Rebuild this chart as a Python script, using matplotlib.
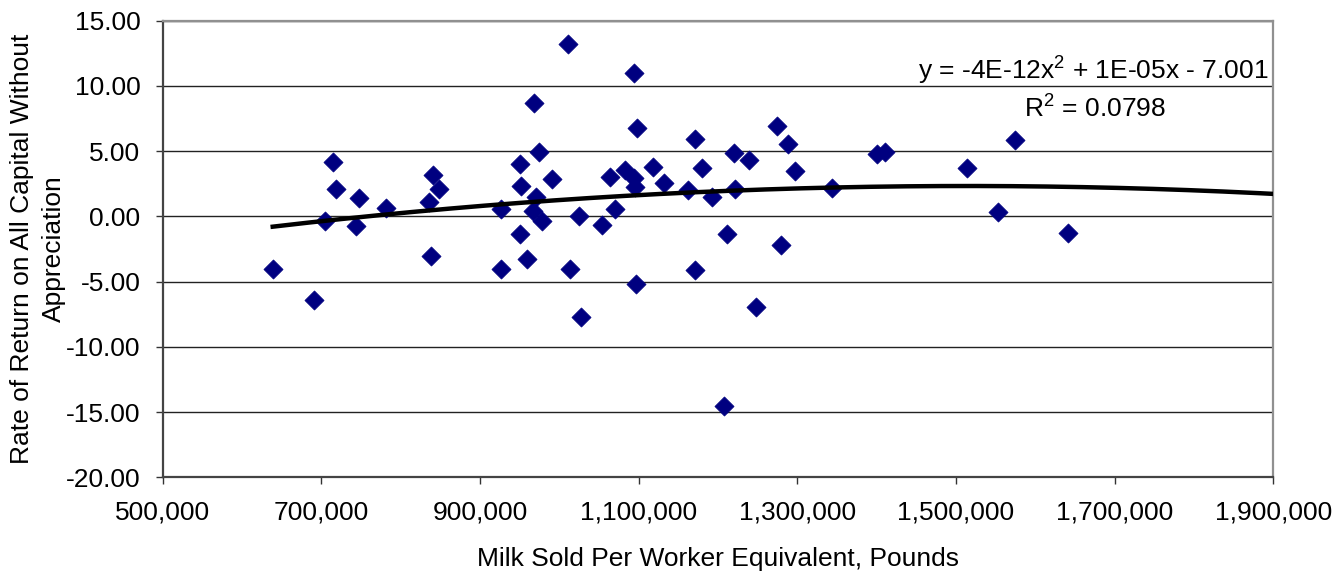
import numpy as np
import matplotlib as mpl
import matplotlib.pyplot as plt
from matplotlib.ticker import FuncFormatter

# Scatter: milk sold per worker equivalent (lb) vs rate of return on all capital
milk_sold = [
    638700, 690700, 705000, 714300, 718100, 747500, 743300, 781100,
    841100, 848700, 836100, 838600, 926100, 926500, 950400, 952100,
    950400, 959200, 968500, 974000, 991200, 970600, 967200, 977800,
    1011300, 1013400, 1025200, 1027300, 1094100, 1097500, 1063900, 1083200,
    1094100, 1095000, 1118500, 1132000, 1070200, 1053400, 1096700, 1170600,
    1179400, 1162600, 1192100, 1171400, 1207900, 1211400, 1220200, 1221100,
    1238700, 1247900, 1274400, 1288700, 1296700, 1279000, 1344200, 1400900,
    1410500, 1514300, 1574800, 1552900, 1641200,
]
rate_of_return = [
    -4.01, -6.41, -0.35, 4.19, 2.10, 1.43, -0.71, 0.62,
    3.17, 2.10, 1.08, -3.04, 0.57, -4.01, 4.04, 2.33,
    -1.35, -3.29, 8.69, 4.96, 2.89, 1.46, 0.41, -0.33,
    13.21, -4.01, 0.05, -7.69, 10.99, 6.75, 3.04, 3.53,
    2.97, 2.28, 3.81, 2.58, 0.54, -0.66, -5.18, 5.91,
    3.69, 2.02, 1.51, -4.11, -14.53, -1.33, 4.84, 2.08,
    4.32, -6.92, 6.95, 5.53, 3.48, -2.19, 2.16, 4.76,
    4.91, 3.73, 5.88, 0.31, -1.30,
]

# trendline coefficients (x^2, x, const);
# the label only shows them rounded
trend_coef = [-4.068e-12, 1.232e-05, -7.001]
trend_end = 1900000  # Excel forecast runs out to the axis edge

X_TICKS = np.arange(500000, 1900001, 200000)
Y_TICKS = np.arange(-20, 15.01, 5)
EQUATION = "y = -4E-12x$^{2}$ + 1E-05x - 7.001"
R_SQUARED = "R$^{2}$ = 0.0798"

NAVY = "#000080"

mpl.rcParams.update({
    "font.family": ["Liberation Sans", "DejaVu Sans"],
    "font.size": 19,
    "mathtext.fontset": "custom",
    "mathtext.rm": "Liberation Sans",
})

fig = plt.figure(figsize=(13.39, 5.74), dpi=100)
ax = fig.add_axes([0.1215, 0.1685, 0.8295, 0.7955])

ax.scatter(milk_sold, rate_of_return, marker="D", s=95, color=NAVY,
           edgecolors=NAVY, linewidths=0.5, zorder=3)

xs = np.linspace(min(milk_sold), trend_end, 200)
ax.plot(xs, np.polyval(trend_coef, xs), color="black", linewidth=3.2, zorder=4)

ax.set_xlim(500000, 1900000)
ax.set_ylim(-20, 15)
ax.set_xticks(X_TICKS)
ax.set_yticks(Y_TICKS)
ax.xaxis.set_major_formatter(FuncFormatter(lambda v, p: f"{v:,.0f}"))
ax.yaxis.set_major_formatter(FuncFormatter(lambda v, p: f"{v:.2f}"))
ax.tick_params(axis="both", direction="out", length=5, width=1,
               color="#333333", labelsize=19)
ax.tick_params(axis="y", pad=11)
ax.tick_params(axis="x", pad=12)

ax.yaxis.grid(True, color="#222222", linewidth=1)
ax.set_axisbelow(True)
for side in ("left", "bottom"):
    ax.spines[side].set_color("#444444")
    ax.spines[side].set_linewidth(1.6)
for side in ("top", "right"):
    ax.spines[side].set_color("#909090")
    ax.spines[side].set_linewidth(1.6)

ax.set_xlabel("Milk Sold Per Worker Equivalent, Pounds", fontsize=19, labelpad=16)
ax.set_ylabel("Rate of Return on All Capital Without\nAppreciation",
              fontsize=19, linespacing=1.45)
ax.yaxis.set_label_coords(-0.087, 0.5)

ax.text(0.9955, 0.892, EQUATION, transform=ax.transAxes, ha="right",
        va="center", fontsize=19)
ax.text(0.839, 0.809, R_SQUARED, transform=ax.transAxes, ha="center",
        va="center", fontsize=19)

fig.savefig("out.png", dpi=100)
